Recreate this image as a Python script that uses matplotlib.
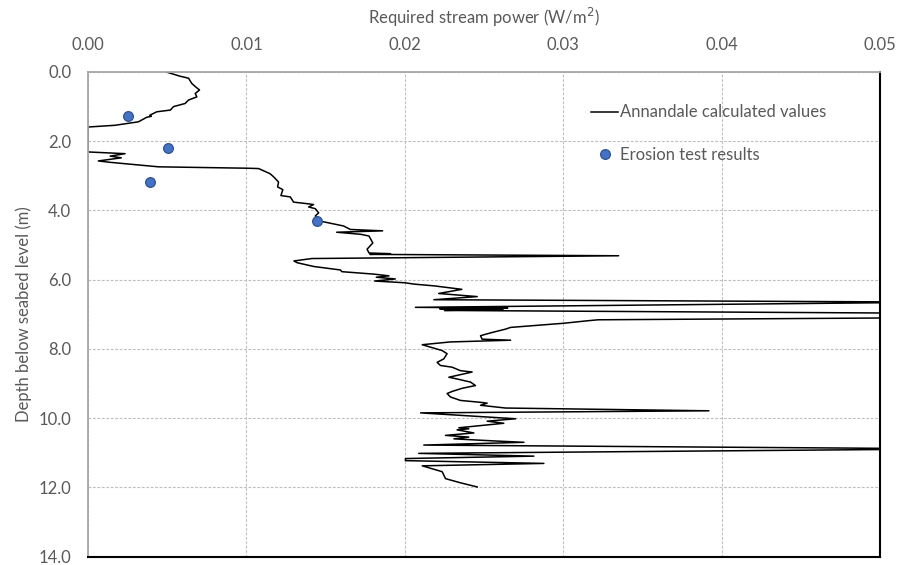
import numpy as np
import matplotlib.pyplot as plt

# Annandale calculated values: required stream power (W/m2) vs depth (m)
power = [0.00494, 0.00580, 0.00635, 0.00655, 0.00677, 0.00704, 0.00677, 0.00687,
         0.00635, 0.00613, 0.00540, 0.00520, 0.00434, 0.00390, 0.00400, 0.00370,
         0.00318, 0.00170, 0.00000, 0.00000, 0.00234, 0.00140, 0.00210, 0.00065,
         0.00140, 0.00445, 0.01003, 0.01077, 0.01150, 0.01172, 0.01203, 0.01197,
         0.01230, 0.01218, 0.01277, 0.01298, 0.01393, 0.01424, 0.01393, 0.01435,
         0.01456, 0.01435, 0.01467, 0.01614, 0.01656, 0.01860, 0.01570, 0.01722,
         0.01774, 0.01798, 0.01762, 0.01774, 0.01910, 0.01780, 0.03350, 0.01413,
         0.01300, 0.01320, 0.01425, 0.01593, 0.01603, 0.01804, 0.01900, 0.01820,
         0.01940, 0.01810, 0.02000, 0.02060, 0.02185, 0.02360, 0.02214, 0.02457,
         0.02183, 0.05400, 0.02067, 0.02650, 0.02220, 0.02620, 0.02250, 0.06000,
         0.06000, 0.03220, 0.03150, 0.03004, 0.02668, 0.02636, 0.02540, 0.02478,
         0.02488, 0.02668, 0.02288, 0.02110, 0.02140, 0.02236, 0.02267, 0.02246,
         0.02204, 0.02225, 0.02299, 0.02351, 0.02425, 0.02278, 0.02330, 0.02415,
         0.02446, 0.02362, 0.02299, 0.02267, 0.02288, 0.02351, 0.02488, 0.02520,
         0.02478, 0.02636, 0.03920, 0.02100, 0.02700, 0.02520, 0.02625, 0.02341,
         0.02404, 0.02330, 0.02436, 0.02257, 0.02404, 0.02310, 0.02562, 0.02752,
         0.02120, 0.05500, 0.02088, 0.02815, 0.02004, 0.02004, 0.02878, 0.02110,
         0.02183, 0.02236, 0.02257, 0.02351, 0.02457]
depth = [0.00, 0.12, 0.18, 0.33, 0.42, 0.52, 0.62, 0.72,
         0.81, 0.91, 1.00, 1.10, 1.15, 1.25, 1.28, 1.31,
         1.44, 1.54, 1.59, 2.31, 2.36, 2.43, 2.48, 2.57,
         2.61, 2.74, 2.78, 2.79, 2.94, 3.03, 3.18, 3.32,
         3.40, 3.57, 3.61, 3.76, 3.81, 3.83, 3.90, 3.95,
         4.07, 4.16, 4.31, 4.45, 4.55, 4.59, 4.63, 4.69,
         4.74, 4.94, 5.12, 5.23, 5.25, 5.27, 5.31, 5.39,
         5.46, 5.51, 5.62, 5.72, 5.77, 5.84, 5.89, 5.93,
         5.98, 6.04, 6.09, 6.13, 6.18, 6.28, 6.40, 6.49,
         6.58, 6.65, 6.80, 6.82, 6.84, 6.86, 6.89, 6.99,
         7.08, 7.16, 7.19, 7.26, 7.38, 7.43, 7.54, 7.62,
         7.72, 7.75, 7.80, 7.88, 7.92, 8.05, 8.14, 8.29,
         8.39, 8.48, 8.53, 8.63, 8.67, 8.82, 8.87, 8.96,
         9.06, 9.14, 9.23, 9.29, 9.39, 9.49, 9.55, 9.57,
         9.63, 9.71, 9.79, 9.85, 10.02, 10.09, 10.15, 10.28,
         10.31, 10.34, 10.43, 10.50, 10.55, 10.60, 10.66, 10.70,
         10.78, 10.89, 11.02, 11.10, 11.17, 11.23, 11.31, 11.38,
         11.48, 11.55, 11.75, 11.87, 11.99]

# Erosion test results
test_power = [0.00255, 0.00502, 0.00392, 0.01443]
test_depth = [1.27, 2.21, 3.18, 4.31]

x_ticks = [0.00, 0.01, 0.02, 0.03, 0.04, 0.05]
y_ticks = [0, 2, 4, 6, 8, 10, 12, 14]

plt.rcParams['font.family'] = ['Lato', 'DejaVu Sans']
grey = '#595959'

fig = plt.figure(figsize=(9.01, 5.65), dpi=100)
ax = fig.add_axes([88/901, 1 - 556.5/565, 792/901, 484.5/565])

ax.plot(power, depth, color='black', lw=1.1, label='Annandale calculated values')
ax.plot(test_power, test_depth, 'o', ms=7, mfc='#4472C4', mec='#2F528F', mew=0.9,
        label='Erosion test results')

ax.set_xlim(0, 0.05)
ax.set_ylim(14, 0)
ax.set_xticks(x_ticks)
ax.set_yticks(y_ticks)
ax.set_xticklabels([f'{v:.2f}' for v in x_ticks])
ax.set_yticklabels([f'{v:.1f}' for v in y_ticks])
ax.xaxis.tick_top()
ax.xaxis.set_label_position('top')
ax.tick_params(axis='x', length=0, pad=14, labelsize=12, colors=grey)
ax.tick_params(axis='y', length=0, pad=12, labelsize=12, colors=grey)
ax.set_xlabel('Required stream power (W/m$^2$)', fontsize=12, color=grey, labelpad=9)
ax.set_ylabel('Depth below seabed level (m)', fontsize=12, color=grey, labelpad=5)

ax.grid(True, color='#BFBFBF', ls=(0, (2.5, 1.5)), lw=0.8)
ax.set_axisbelow(True)

for side in ['top', 'left']:
    ax.spines[side].set_color('#A6A6A6')
    ax.spines[side].set_linewidth(1.3)
for side in ['right', 'bottom']:
    ax.spines[side].set_color('black')
    ax.spines[side].set_linewidth(1.5)

leg = ax.legend(loc='upper left', bbox_to_anchor=(0.627, 0.947), frameon=False,
                fontsize=12, labelspacing=1.6, handlelength=1.6, handletextpad=0.15,
                borderaxespad=0)
for t in leg.get_texts():
    t.set_color(grey)

plt.savefig('out.png', dpi=100)
